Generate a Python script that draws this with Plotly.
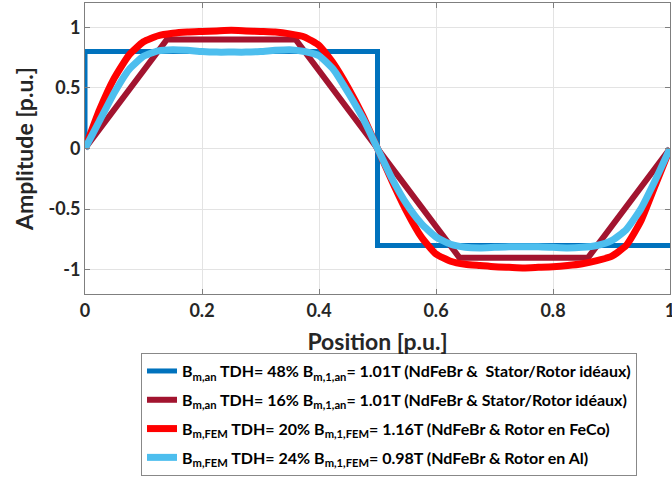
import plotly.graph_objects as go

# ---- data ----
positions = [0.0, 0.025, 0.05, 0.075, 0.1, 0.125, 0.15, 0.175, 0.2, 0.225, 0.25,
             0.275, 0.3, 0.325, 0.35, 0.375, 0.4, 0.425, 0.45, 0.475, 0.5,
             0.525, 0.55, 0.575, 0.6, 0.625, 0.65, 0.675, 0.7, 0.725, 0.75,
             0.775, 0.8, 0.825, 0.85, 0.875, 0.9, 0.925, 0.95, 0.975, 1.0]

b_fem_feco = [0.0, 0.32, 0.58, 0.77, 0.88, 0.93, 0.95, 0.96, 0.965, 0.97, 0.975,
              0.97, 0.965, 0.96, 0.945, 0.92, 0.85, 0.70, 0.50, 0.27, 0.0,
              -0.27, -0.52, -0.73, -0.87, -0.93, -0.955, -0.965, -0.975, -0.98, -0.985,
              -0.98, -0.975, -0.965, -0.95, -0.925, -0.89, -0.80, -0.60, -0.30, 0.0]

b_fem_al = [0.0, 0.23, 0.46, 0.65, 0.76, 0.805, 0.815, 0.81, 0.80, 0.795, 0.795,
            0.795, 0.80, 0.81, 0.815, 0.80, 0.765, 0.65, 0.46, 0.25, 0.0,
            -0.25, -0.46, -0.62, -0.73, -0.79, -0.815, -0.82, -0.815, -0.81, -0.81,
            -0.81, -0.815, -0.82, -0.815, -0.80, -0.76, -0.67, -0.50, -0.26, 0.0]

square_x = [0.0, 0.0, 0.5, 0.5, 1.0]
square_y = [0.0, 0.8, 0.8, -0.8, -0.8]

trap_x = [0.0, 0.14, 0.36, 0.64, 0.86, 1.0]
trap_y = [0.0, 0.9, 0.9, -0.9, -0.9, 0.0]

x_tickvals = [0, 0.2, 0.4, 0.6, 0.8, 1]
x_ticktext = ["0", "0.2", "0.4", "0.6", "0.8", "1"]
y_tickvals = [-1, -0.5, 0, 0.5, 1]
y_ticktext = ["-1", "-0.5", "0", "0.5", "1"]

names = [
    "B<sub>m,an</sub> TDH= 48% B<sub>m,1,an</sub>= 1.01T (NdFeBr &  Stator/Rotor idéaux)",
    "B<sub>m,an</sub> TDH= 16% B<sub>m,1,an</sub>= 1.01T (NdFeBr & Stator/Rotor idéaux)",
    "B<sub>m,FEM</sub> TDH= 20% B<sub>m,1,FEM</sub>= 1.16T (NdFeBr & Rotor en FeCo)",
    "B<sub>m,FEM</sub> TDH= 24% B<sub>m,1,FEM</sub>= 0.98T (NdFeBr & Rotor en Al)",
]
colors = ["#0072BD", "#A2142F", "#FF0000", "#4DBEEE"]

FONT = "Lato, 'Open Sans', sans-serif"

fig = go.Figure()
fig.add_trace(go.Scatter(x=square_x, y=square_y, mode="lines", name=names[0],
                         legendgroup="g0",
                         line=dict(color=colors[0], width=5)))
fig.add_trace(go.Scatter(x=trap_x, y=trap_y, mode="lines", name=names[1],
                         legendgroup="g1",
                         line=dict(color=colors[1], width=6)))
fig.add_trace(go.Scatter(x=positions, y=b_fem_feco, mode="lines", name=names[2],
                         legendgroup="g2",
                         line=dict(color=colors[2], width=7, shape="spline", smoothing=0.5)))
fig.add_trace(go.Scatter(x=positions, y=b_fem_al, mode="lines", name=names[3],
                         legendgroup="g3",
                         line=dict(color=colors[3], width=7, shape="spline", smoothing=0.5)))

axis_common = dict(
    showgrid=True, gridcolor="#E3E3E3", gridwidth=1,
    showline=True, linecolor="#7F7F7F", linewidth=1, mirror="ticks",
    ticks="inside", ticklen=5, tickcolor="#7F7F7F",
    zeroline=False, ticklabeloverflow="allow",
    tickfont=dict(family=FONT, size=18, color="#262626", weight="bold"),
)

fig.update_layout(
    width=672, height=483,
    margin=dict(l=85, r=2, t=3, b=189, autoexpand=False),
    paper_bgcolor="white", plot_bgcolor="white",
    font=dict(family=FONT, color="#262626"),
    xaxis=dict(range=[0, 1], tickvals=x_tickvals, ticktext=x_ticktext,
               title=dict(text="Position [p.u.]", standoff=14,
                          font=dict(family=FONT, size=23, color="#262626", weight="bold")),
               automargin=False, **axis_common),
    yaxis=dict(range=[-1.2, 1.2], tickvals=y_tickvals, ticktext=y_ticktext,
               title=dict(text="Amplitude [p.u.]", standoff=8,
                          font=dict(family=FONT, size=23, color="#262626", weight="bold")),
               automargin=False, **axis_common),
    legend=dict(
        x=0.0957, y=-0.203, xanchor="left", yanchor="top",
        bgcolor="white", bordercolor="#888888", borderwidth=1,
        font=dict(family=FONT, size=16, color="#000000", weight="bold"),
        itemwidth=30, tracegroupgap=5,
    ),
    showlegend=True,
)

fig.write_html("out.html", config={"displayModeBar": False},
               post_script="document.body.style.margin='0';")
